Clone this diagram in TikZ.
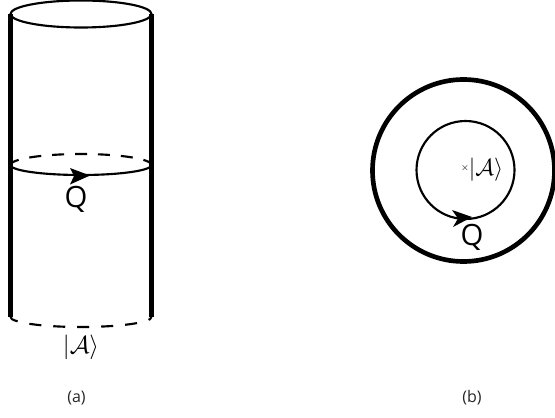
\documentclass[tikz,border=0pt]{standalone}
\usepackage{amsmath,amssymb}
\usepackage{fontspec}
\setmainfont{Open Sans}
\tikzset{
 wall/.style={line width=3.7pt},
 thin line/.style={line width=1.6pt},
 dash line/.style={line width=1.6pt,dash pattern=on 9pt off 8.2pt},
 lab/.style={inner sep=0pt,font=\fontsize{12}{14}\selectfont,text=black!85},
 qlab/.style={inner sep=0pt,font=\fontsize{22}{26}\selectfont},
}
\begin{document}
\begin{tikzpicture}[x=1pt,y=-1pt,scale=0.75]
\useasboundingbox (0,0) rectangle (555,417);
\clip (0,0) rectangle (555,417);
\draw[thin line] (81,14) ellipse (70.5 and 13.5);
\coordinate (tl) at (10.5,14); \coordinate (bl) at (10.5,317);
\coordinate (tr) at (151.5,14); \coordinate (br) at (151.5,317);
\draw[wall] (tl) -- (bl);
\draw[wall] (tr) -- (br);
\draw[dash line,dash phase=1.5pt] (10.5,165) arc[start angle=180,end angle=360,x radius=70.5,y radius=11];
\draw[thin line] (10.5,165) arc[start angle=180,end angle=360,x radius=70.5,y radius=-10];
\draw[dash line,dash pattern=on 9pt off 9pt,dash phase=2.5pt] (10.5,317) arc[start angle=180,end angle=360,x radius=70.5,y radius=-10];
\fill (90,175.5) -- (70,168) -- (74,176) -- (70,184.5) -- cycle;
\node[qlab] (q1) at (76,199) {Q};
\node[inner sep=0pt] (a1) at (81,347) {\scalebox{1.85}{$|\mathcal{A}\rangle$}};
\node[lab] (ca) at (76.5,398) {(a)};
\draw[line width=3.5pt] (463.5,170.5) circle (91);
\draw[thin line] (465.5,170) circle (49);
\fill (472,217) -- (452,210) -- (458,218.5) -- (453,227) -- cycle;
\node[qlab] (q2) at (472,237) {Q};
\node[inner sep=0pt] (a2) at (486,170) {\scalebox{1.75}{$|\mathcal{A}\rangle$}};
\node[inner sep=0pt,font=\scriptsize] (x) at (465,168) {$\times$};
\node[lab] (cb) at (472,398) {(b)};
\end{tikzpicture}
\end{document}
